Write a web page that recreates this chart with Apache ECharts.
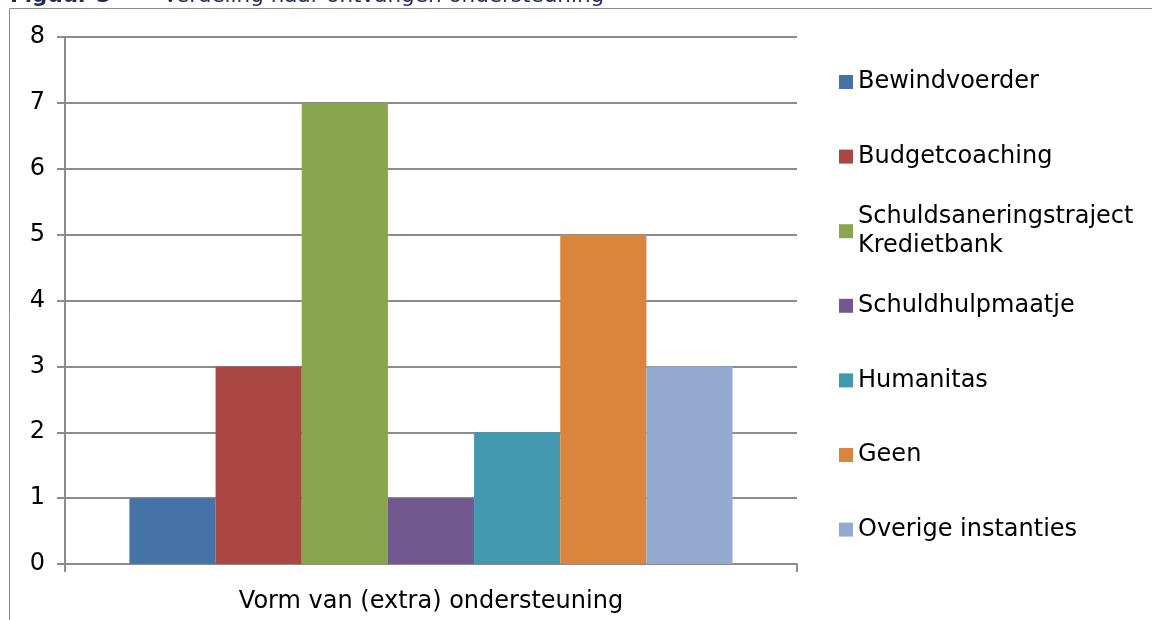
<!DOCTYPE html>
<html>
<head>
<meta charset="utf-8">
<script src="https://cdn.jsdelivr.net/npm/echarts@6/dist/echarts.min.js"></script>
<style>
html,body{margin:0;padding:0;background:#fff;}
#chart{width:1152px;height:620px;}
</style>
</head>
<body>
<div id="chart"></div>
<script>
// ---- data ----
var categories = ['Vorm van (extra) ondersteuning'];
var seriesNames = ['Bewindvoerder', 'Budgetcoaching', 'Schuldsaneringstraject Kredietbank', 'Schuldhulpmaatje', 'Humanitas', 'Geen', 'Overige instanties'];
var seriesValues = [1, 3, 7, 1, 2, 5, 3];
var legendLabels = ['Bewindvoerder', 'Budgetcoaching', 'Schuldsaneringstraject\nKredietbank', 'Schuldhulpmaatje', 'Humanitas', 'Geen', 'Overige instanties'];
var yTicks = [0, 1, 2, 3, 4, 5, 6, 7, 8];
var titleBold = 'Figuur 3';
var titleText = 'Verdeling naar ontvangen ondersteuning';

// ---- styles ----
var colors = ['#4572A7', '#AA4643', '#89A54E', '#71588F', '#4198AF', '#DB843D', '#93A9CF'];
var FONT = 'DejaVu Sans';
var gridColor = '#8c8c8c';

var chart = echarts.init(document.getElementById('chart'), null, {renderer: 'canvas'});

var series = seriesNames.map(function (n, i) {
  return {
    name: n,
    type: 'bar',
    data: [seriesValues[i]],
    barGap: '0%',
    barCategoryGap: '17.6%',
    itemStyle: {color: colors[i]},
    emphasis: {disabled: true}
  };
});

var legendFirstCenter = 82;
var legendStep = 74.6;
var legends = seriesNames.map(function (n, i) {
  var twoLine = legendLabels[i].indexOf('\n') >= 0;
  var center = legendFirstCenter + legendStep * i;
  return {
    data: [n],
    orient: 'vertical',
    left: 839,
    top: twoLine ? center - 43.5 : center - 14.5,
    itemWidth: 14,
    itemHeight: 14,
    itemGap: 0,
    icon: 'rect',
    padding: 0,
    selectedMode: false,
    formatter: function () { return legendLabels[i]; },
    textStyle: {
      fontFamily: FONT,
      fontSize: 24,
      color: '#000',
      lineHeight: 29,
      padding: twoLine ? [29, 0, 0, 0] : 0
    }
  };
});

var option = {
  animation: false,
  color: colors,
  grid: {left: 65, right: 355, top: 37, bottom: 56, containLabel: false},
  xAxis: {
    type: 'category',
    data: categories,
    axisLine: {show: true, lineStyle: {color: gridColor, width: 2}},
    axisTick: {show: true, length: 8, lineStyle: {color: gridColor, width: 2}},
    axisLabel: {fontFamily: FONT, fontSize: 24, color: '#000', margin: 26}
  },
  yAxis: {
    type: 'value',
    min: 0,
    max: 8,
    interval: 1,
    axisLine: {show: true, lineStyle: {color: gridColor, width: 2}},
    axisTick: {show: true, length: 8, lineStyle: {color: gridColor, width: 2}},
    axisLabel: {
      fontFamily: FONT, fontSize: 24, color: '#000', margin: 20,
      formatter: function (v) { return yTicks.indexOf(v) >= 0 ? String(v) : ''; }
    },
    splitLine: {show: true, lineStyle: {color: gridColor, width: 2}}
  },
  legend: legends,
  series: series,
  graphic: [
    {
      type: 'rect',
      silent: true,
      shape: {x: 9.5, y: 8.5, width: 1300, height: 800},
      style: {fill: 'none', stroke: '#8c8c8c', lineWidth: 1},
      z: -10
    },
    {
      type: 'text',
      silent: true,
      left: 10,
      top: -15,
      style: {text: titleBold, fontFamily: FONT, fontWeight: 'bold', fontSize: 21.5, fill: '#1F2A5C'}
    },
    {
      type: 'text',
      silent: true,
      left: 163,
      top: -15,
      style: {text: titleText, fontFamily: FONT, fontSize: 21.5, fill: '#1F2A5C'}
    }
  ]
};
chart.setOption(option);
</script>
</body>
</html>
